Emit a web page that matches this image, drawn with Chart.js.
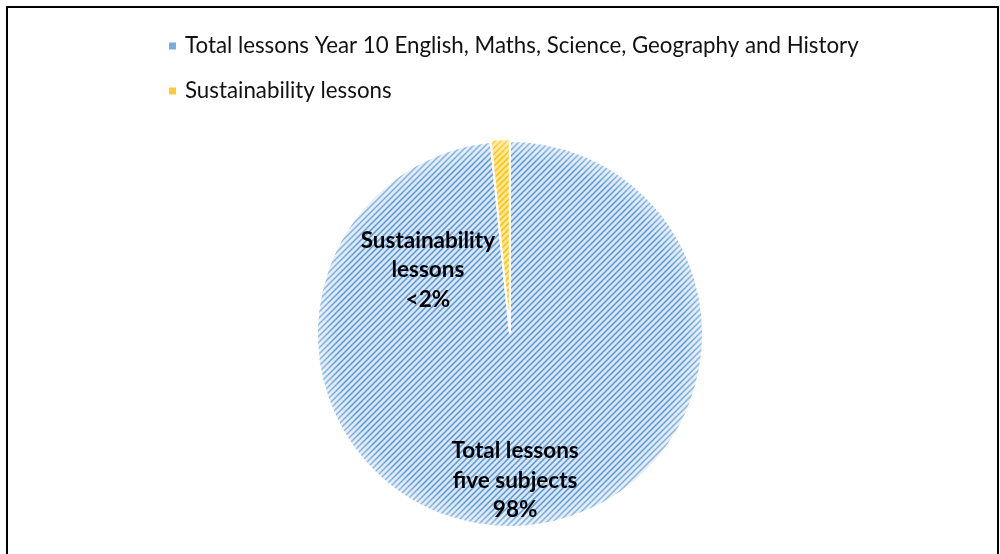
<!DOCTYPE html>
<html><head><meta charset="utf-8">
<script src="https://cdn.jsdelivr.net/npm/chart.js@4.4.1/dist/chart.umd.min.js"></script>
<style>
html,body{margin:0;padding:0;background:#fff;}
#wrap{position:relative;width:1000px;height:554px;overflow:hidden;}
#frame{position:absolute;left:6px;top:6px;width:993px;height:600px;border:2px solid #000;box-sizing:border-box;pointer-events:none}
</style></head><body>
<div id="wrap"><canvas id="c" width="1000" height="554"></canvas><div id="frame"></div></div>
<script>
const categories = ['Total lessons Year 10 English, Maths, Science, Geography and History', 'Sustainability lessons'];
const shares = [98.4, 1.6];
const sliceLabelLines = [['Total lessons', 'five subjects', '98%'], ['Sustainability', 'lessons', '<2%']];

function makePattern(bg, fg, mid) {
  const s = 6;
  const c = document.createElement('canvas'); c.width = s; c.height = s;
  const x = c.getContext('2d');
  x.fillStyle = bg; x.fillRect(0, 0, s, s);
  for (let i = 0; i < s; i++) for (let j = 0; j < s; j++) {
    const d = (i + j) % s;
    if (d === 0) { x.fillStyle = fg; x.fillRect(i, j, 1, 1); }
    else if (d === 1 || d === 5) { x.fillStyle = mid; x.fillRect(i, j, 1, 1); }
  }
  const main = document.getElementById('c').getContext('2d');
  return main.createPattern(c, 'repeat');
}
const bluePat = makePattern('#dbe7f6', '#5b9bd5', '#8fbae6');
const yellowPat = makePattern('#ffe699', '#ffc000', '#ffd243');
const fills = [bluePat, yellowPat];
const legendSwatches = ['#7aaade', '#ffc93a'];

const legendPlugin = {
  id: 'customLegend',
  afterDraw(chart, args, opts) {
    const ctx = chart.ctx;
    ctx.save();
    ctx.font = opts.font;
    ctx.textBaseline = 'middle';
    categories.forEach((lab, i) => {
      const y = opts.top + i * opts.rowGap;
      ctx.fillStyle = legendSwatches[i];
      ctx.fillRect(opts.left, y - opts.box / 2, opts.box, opts.box);
      ctx.fillStyle = '#111';
      ctx.fillText(lab, opts.left + opts.textGap, y);
    });
    ctx.restore();
  }
};

const labelPlugin = {
  id: 'sliceLabels',
  afterDatasetsDraw(chart, args, opts) {
    const ctx = chart.ctx;
    const meta = chart.getDatasetMeta(0);
    ctx.save();
    ctx.font = opts.font;
    ctx.textAlign = 'center';
    ctx.textBaseline = 'middle';
    ctx.fillStyle = '#000';
    meta.data.forEach((arc, i) => {
      const p = opts.placement[i];
      const a = p.angle * Math.PI / 180;
      const cx = arc.x + Math.cos(a) * arc.outerRadius * p.r;
      const cy = arc.y + Math.sin(a) * arc.outerRadius * p.r;
      const lines = sliceLabelLines[i];
      lines.forEach((t, k) => {
        ctx.fillText(t, cx, cy + (k - (lines.length - 1) / 2) * opts.lineHeight);
      });
    });
    ctx.restore();
  }
};

const edgePlugin = {
  id: 'edgeGlow',
  afterDatasetsDraw(chart) {
    const ctx = chart.ctx;
    const meta = chart.getDatasetMeta(0);
    meta.data.forEach(arc => {
      const {x, y, startAngle, endAngle, outerRadius} = arc.getProps(['x','y','startAngle','endAngle','outerRadius'], true);
      const mid = (startAngle + endAngle) / 2;
      const off = arc.options.offset || 0;
      const ox = x + Math.cos(mid) * off, oy = y + Math.sin(mid) * off;
      const g = ctx.createRadialGradient(ox, oy, outerRadius * 0.9, ox, oy, outerRadius);
      g.addColorStop(0, 'rgba(255,255,255,0)');
      g.addColorStop(1, 'rgba(255,255,255,0.35)');
      ctx.save();
      ctx.beginPath();
      ctx.moveTo(ox, oy);
      ctx.arc(ox, oy, outerRadius - 1, startAngle, endAngle);
      ctx.closePath();
      ctx.fillStyle = g;
      ctx.fill();
      ctx.restore();
    });
  }
};

new Chart(document.getElementById('c'), {
  type: 'pie',
  data: {
    labels: categories,
    datasets: [{
      data: shares,
      backgroundColor: fills,
      borderColor: '#ffffff',
      borderWidth: 2,
      offset: [0, 4]
    }]
  },
  options: {
    responsive: false,
    animation: false,
    layout: { padding: { top: 138, bottom: 24, left: 20, right: 0 } },
    plugins: {
      legend: { display: false },
      tooltip: { enabled: false },
      customLegend: { left: 169, top: 46, rowGap: 45, box: 7, textGap: 16, font: '22.3px Lato' },
      sliceLabels: {
        font: 'bold 22.5px Lato',
        lineHeight: 29.5,
        placement: [{ angle: 88, r: 0.76 }, { angle: -142, r: 0.54 }]
      }
    }
  },
  plugins: [edgePlugin, labelPlugin, legendPlugin]
});
</script>
</body></html>
